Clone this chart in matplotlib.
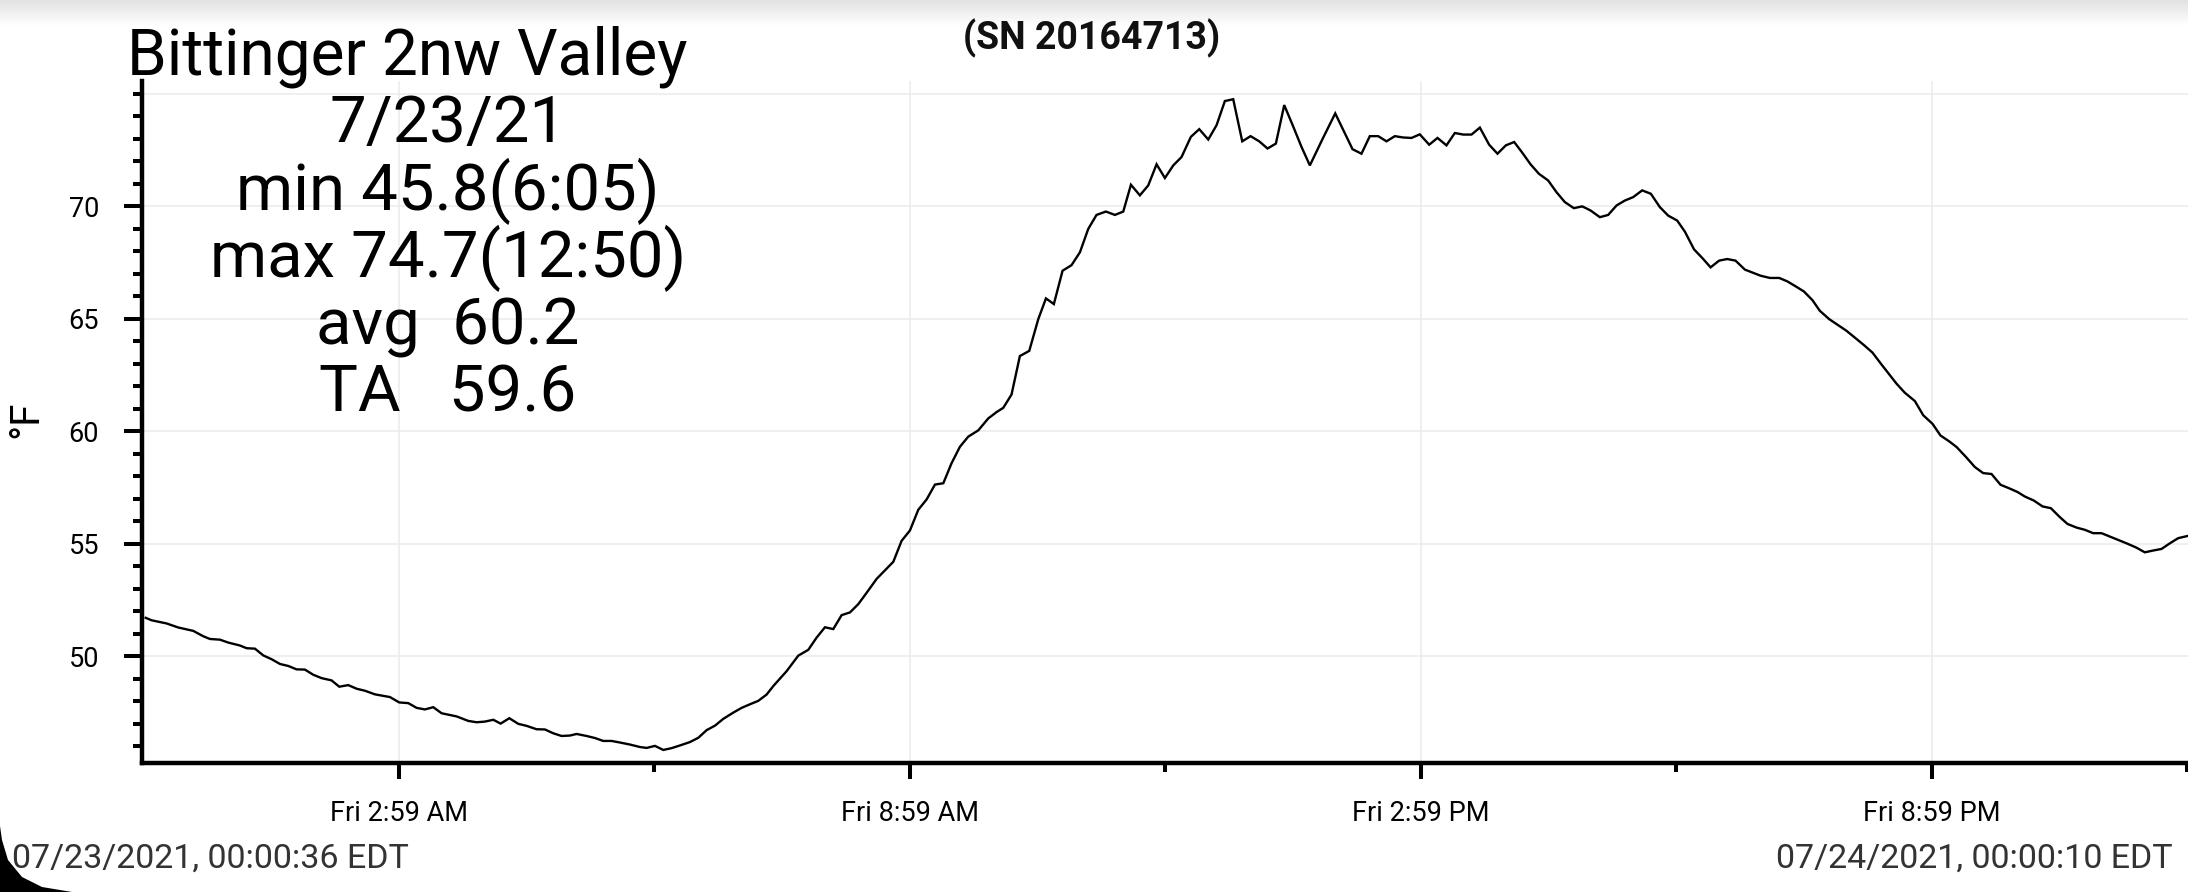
import matplotlib
matplotlib.use("Agg")
import matplotlib.pyplot as plt
import numpy as np
from matplotlib.patches import PathPatch
from matplotlib.path import Path

plt.rcParams['font.family'] = ['Roboto', 'DejaVu Sans']

# ---- data (hours since midnight 07/23/2021, temperature in °F) ----
hours = [0.01, 0.079, 0.255, 0.392, 0.568, 0.686, 0.764, 0.881, 0.979, 1.116, 1.194, 1.292, 1.390, 1.488,
         1.586, 1.684, 1.781, 1.879, 1.977, 2.075, 2.192, 2.282, 2.388, 2.486, 2.584, 2.701, 2.877, 2.987,
         3.093, 3.190, 3.288, 3.386, 3.484, 3.660, 3.797, 3.895, 3.993, 4.091, 4.177, 4.279, 4.384, 4.482,
         4.599, 4.697, 4.795, 4.893, 4.991, 5.069, 5.187, 5.284, 5.382, 5.480, 5.578, 5.695, 5.813, 5.891,
         5.989, 6.087, 6.185, 6.283, 6.400, 6.498, 6.596, 6.694, 6.791, 6.909, 7.007, 7.105, 7.202, 7.300,
         7.379, 7.535, 7.672, 7.790, 7.887, 7.985, 8.083, 8.181, 8.279, 8.377, 8.474, 8.592, 8.690, 8.788,
         8.885, 8.983, 9.081, 9.179, 9.277, 9.375, 9.472, 9.570, 9.668, 9.786, 9.903, 10.000, 10.079,
         10.176, 10.274, 10.384, 10.490, 10.580, 10.673, 10.775, 10.881, 10.979, 11.077, 11.174, 11.284,
         11.390, 11.488, 11.578, 11.683, 11.781, 11.879, 11.977, 12.075, 12.172, 12.282, 12.380, 12.486,
         12.584, 12.681, 12.779, 12.885, 12.983, 13.084, 13.182, 13.280, 13.378, 13.480, 13.581, 13.679,
         13.830, 13.977, 14.180, 14.285, 14.383, 14.481, 14.579, 14.677, 14.775, 14.872, 14.970, 15.080,
         15.178, 15.283, 15.381, 15.479, 15.577, 15.675, 15.784, 15.882, 15.980, 16.078, 16.176, 16.270,
         16.368, 16.477, 16.575, 16.673, 16.779, 16.877, 16.974, 17.084, 17.182, 17.280, 17.378, 17.475,
         17.581, 17.683, 17.788, 17.886, 17.992, 18.082, 18.190, 18.298, 18.384, 18.485, 18.579, 18.677,
         18.787, 18.971, 19.080, 19.190, 19.284, 19.386, 19.480, 19.581, 19.667, 19.777, 19.875, 19.981,
         20.078, 20.184, 20.286, 20.380, 20.482, 20.568, 20.665, 20.783, 20.881, 20.990, 21.084, 21.186,
         21.272, 21.382, 21.487, 21.585, 21.683, 21.789, 21.887, 21.988, 22.074, 22.180, 22.282, 22.380,
         22.478, 22.575, 22.681, 22.779, 22.877, 22.975, 23.073, 23.170, 23.268, 23.378, 23.483, 23.581,
         23.679, 23.777, 23.875, 23.989]
temps = [51.71, 51.60, 51.46, 51.28, 51.13, 50.89, 50.77, 50.74, 50.61, 50.48, 50.36, 50.34, 50.04, 49.87,
         49.66, 49.57, 49.42, 49.41, 49.18, 49.03, 48.93, 48.65, 48.72, 48.56, 48.47, 48.31, 48.19, 47.95,
         47.92, 47.71, 47.64, 47.74, 47.47, 47.33, 47.13, 47.07, 47.10, 47.18, 47.01, 47.25, 47.00, 46.91,
         46.76, 46.75, 46.58, 46.46, 46.48, 46.55, 46.46, 46.37, 46.24, 46.24, 46.17, 46.08, 45.97, 45.93,
         46.02, 45.84, 45.92, 46.04, 46.19, 46.38, 46.72, 46.92, 47.22, 47.50, 47.71, 47.87, 48.02, 48.30,
         48.68, 49.34, 50.03, 50.29, 50.83, 51.29, 51.21, 51.83, 51.95, 52.32, 52.82, 53.44, 53.82, 54.20,
         55.13, 55.59, 56.51, 56.97, 57.63, 57.69, 58.58, 59.31, 59.76, 60.04, 60.57, 60.85, 61.04,
         61.63, 63.34, 63.57, 64.98, 65.90, 65.65, 67.13, 67.38, 67.95, 68.99, 69.61, 69.76,
         69.61, 69.76, 70.95, 70.48, 70.92, 71.86, 71.25, 71.81, 72.18, 73.08, 73.42, 72.96,
         73.60, 74.67, 74.75, 72.88, 73.11, 72.88, 72.56, 72.78, 74.49, 73.57, 72.63, 71.81,
         73.00, 74.12, 72.53, 72.33, 73.11, 73.11, 72.88, 73.11, 73.05, 73.03, 73.19, 72.73,
         73.03, 72.70, 73.25, 73.18, 73.18, 73.49, 72.73, 72.33, 72.70, 72.85, 72.36, 71.86,
         71.44, 71.14, 70.62, 70.18, 69.91, 69.99, 69.81, 69.51, 69.61, 70.03, 70.25, 70.40,
         70.70, 70.55, 69.96, 69.58, 69.36, 68.87, 68.08, 67.65, 67.28, 67.58, 67.65, 67.58,
         67.18, 66.91, 66.81, 66.81, 66.66, 66.43, 66.21, 65.82, 65.35, 64.98, 64.73, 64.46,
         64.16, 63.83, 63.49, 63.02, 62.53, 62.11, 61.71, 61.34, 60.71, 60.33, 59.81, 59.55,
         59.30, 58.86, 58.41, 58.14, 58.10, 57.62, 57.47, 57.30, 57.10, 56.92, 56.66, 56.58,
         56.21, 55.88, 55.72, 55.62, 55.47, 55.47, 55.32, 55.17, 55.02, 54.84, 54.62, 54.70,
         54.77, 55.02, 55.25, 55.35]

x_major_ticks = [2.983, 8.983, 14.983, 20.983]
x_major_labels = ["Fri 2:59 AM", "Fri 8:59 AM", "Fri 2:59 PM", "Fri 8:59 PM"]
x_minor_ticks = [5.983, 11.983, 17.983, 23.983]
y_major_ticks = [50, 55, 60, 65, 70]
y_minor_ticks = list(range(46, 76))

title = "Bittinger 2nw Valley"
stat_lines = ["7/23/21", "min 45.8(6:05)", "max 74.7(12:50)", "avg  60.2", "TA   59.6"]
serial = "(SN 20164713)"
y_unit = "°F"
start_label = "07/23/2021, 00:00:36 EDT"
end_label = "07/24/2021, 00:00:10 EDT"

W, H = 2188, 892
fig = plt.figure(figsize=(W / 100, H / 100), dpi=100)
fig.patch.set_facecolor("white")

def fx(px):
    return px / W

def fy(py):
    return 1 - py / H

# top grey gradient band
bg = fig.add_axes([0, fy(26), 1, 26 / H], zorder=0)
grad = np.linspace(0, 1, 50).reshape(-1, 1)
bg.imshow(grad, aspect="auto", cmap=matplotlib.colors.LinearSegmentedColormap.from_list(
    "g", ["#e2e2e2", "#ffffff"]), extent=[0, 1, 0, 1], origin="upper")
bg.axis("off")

ax = fig.add_axes([fx(142), fy(763), 1 - fx(142), (763 - 81) / H], zorder=2)
ax.patch.set_alpha(0)
ax.plot(hours, temps, color="black", lw=1.7, solid_joinstyle="miter", zorder=3)

ax.set_xlim(-0.034, 23.99)
ax.set_ylim(45.26, 75.56)

ax.set_xticks(x_major_ticks)
ax.set_xticklabels(x_major_labels)
ax.set_xticks(x_minor_ticks, minor=True)
ax.set_yticks(y_major_ticks)
ax.set_yticks(y_minor_ticks, minor=True)

ax.grid(True, which="major", color="#ebebeb", lw=1.1, zorder=0)
ax.axhline(75, color="#ebebeb", lw=1.1, zorder=0)

for s in ["top", "right"]:
    ax.spines[s].set_visible(False)
for s in ["left", "bottom"]:
    ax.spines[s].set_linewidth(3.2)
    ax.spines[s].set_color("black")

ax.tick_params(axis="y", which="major", length=13, width=2.9, pad=18, labelsize=19.5, direction="out")
ax.tick_params(axis="y", which="minor", length=6.5, width=2.9, direction="out")
ax.tick_params(axis="x", which="major", length=11.5, width=2.9, pad=15, labelsize=19.5, direction="out")
ax.tick_params(axis="x", which="minor", length=6.5, width=2.9, direction="out")
for lab in ax.get_xticklabels() + ax.get_yticklabels():
    lab.set_color("black")

fig.text(fx(26), fy(419), y_unit, rotation=90, ha="center", va="center", fontsize=29, color="black")

# titles / stats
fig.text(fx(407), fy(74), title, ha="center", va="baseline", fontsize=46, color="black", zorder=5)
baselines = [141.7, 210, 276.7, 345, 412]
for txt, b in zip(stat_lines, baselines):
    fig.text(fx(448), fy(b), txt, ha="center", va="baseline", fontsize=47, color="black", zorder=5)

fig.text(fx(1092), fy(49), serial, ha="center", va="baseline", fontsize=27, fontweight="bold",
         color="#111111", zorder=5)

fig.text(fx(12), fy(868), start_label, ha="left", va="baseline", fontsize=24.5, color="#333333", zorder=5)
fig.text(fx(2173), fy(868), end_label, ha="right", va="baseline", fontsize=24.5, color="#333333", zorder=5)

# dark rounded corner at lower left (screenshot frame)
verts_px = [(0, 826), (2, 840), (8, 860), (22, 877), (42, 887), (72, 892), (0, 892), (0, 826)]
verts = [(fx(a), fy(b)) for a, b in verts_px]
codes = [Path.MOVETO] + [Path.LINETO] * 6 + [Path.CLOSEPOLY]
corner = PathPatch(Path(verts, codes), transform=fig.transFigure, facecolor="black", edgecolor="none", zorder=10)
fig.patches.append(corner)

fig.savefig("out.png", dpi=100)
